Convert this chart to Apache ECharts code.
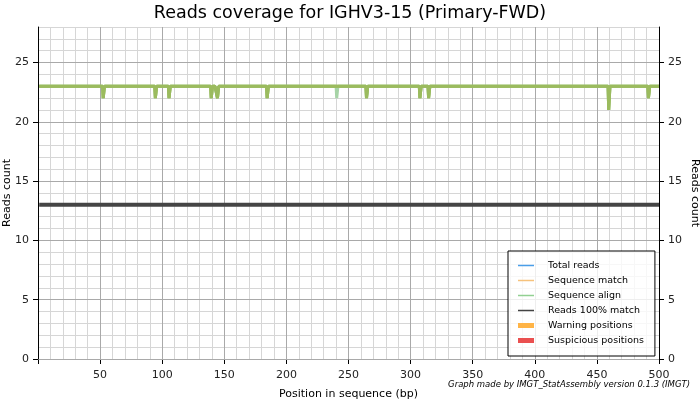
<!DOCTYPE html>
<html>
<head>
<meta charset="utf-8">
<script src="https://cdn.jsdelivr.net/npm/echarts@6/dist/echarts.min.js"></script>
<style>html,body{margin:0;padding:0;background:#fff}#chart{width:700px;height:400px}</style>
</head>
<body>
<div id="chart"></div>
<script>
const titleText = 'Reads coverage for IGHV3-15 (Primary-FWD)';
const footerText = 'Graph made by IMGT_StatAssembly version 0.1.3 (IMGT)';
const seriesNames = ['Total reads', 'Sequence match', 'Sequence align', 'Reads 100% match', 'Warning positions', 'Suspicious positions'];
const yTickValues = [0, 5, 10, 15, 20, 25];

// [position, reads]
const totalReadsPoints = [[1,23],[52,23],[53,22],[54,23],[94,23],[95,22],[96,23],[105,23],[106,22],[107,23],[139,23],[140,22],[141,23],[144,23],[145,22],[146,23],[184,23],[185,22],[186,23],[264,23],[265,22],[266,23],[307,23],[308,22],[309,23],[314,23],[315,22],[316,23],[459,23],[460,21],[461,23],[491,23],[492,22],[493,23],[500,23]];
const sequenceMatchPoints = [[1,23],[52,23],[53,22],[54,23],[94,23],[95,22],[96,23],[105,23],[106,22],[107,23],[139,23],[140,22],[141,23],[144,23],[145,22],[146,23],[184,23],[185,22],[186,23],[264,23],[265,22],[266,23],[307,23],[308,22],[309,23],[314,23],[315,22],[316,23],[459,23],[460,21],[461,23],[491,23],[492,22],[493,23],[500,23]];
const sequenceAlignPoints = [[1,23],[52,23],[53,22],[54,23],[94,23],[95,22],[96,23],[105,23],[106,22],[107,23],[139,23],[140,22],[141,23],[144,23],[145,22],[146,23],[184,23],[185,22],[186,23],[240,23],[241,22],[242,23],[264,23],[265,22],[266,23],[307,23],[308,22],[309,23],[314,23],[315,22],[316,23],[459,23],[460,21],[461,23],[491,23],[492,22],[493,23],[500,23]];
const fullMatchPoints = [[1,13],[500,13]];
const warningPoints = [];
const suspiciousPoints = [];

const FONT = 'DejaVu Sans';
const LINE_ICON = 'path://M0,0H32V3H0Z';
const chart = echarts.init(document.getElementById('chart'), null, {renderer: 'canvas'});

const majorAxisBase = {
  type: 'value', min: 0, max: 28, interval: 5, z: 1,
  axisLine: {show: true, lineStyle: {color: '#000', width: 1}},
  axisTick: {show: true, length: 5, inside: false, lineStyle: {color: '#000'}, customValues: yTickValues},
  axisLabel: {show: true, fontFamily: FONT, fontSize: 11, color: '#222', margin: 9, customValues: yTickValues},
  name: 'Reads count', nameLocation: 'middle', nameMoveOverlap: false,
  nameTextStyle: {fontFamily: FONT, fontSize: 11, color: '#000'}
};

const lineBase = {type: 'line', xAxisIndex: 0, yAxisIndex: 1, symbol: 'none', step: 'middle'};

const option = {
  backgroundColor: '#fff',
  animation: false,
  title: [
    {text: titleText, left: 'center', top: 4, padding: 0,
     textStyle: {fontFamily: FONT, fontSize: 17.5, fontWeight: 'normal', color: '#000'}},
    {text: footerText, right: 10, top: 380, padding: 0,
     textStyle: {fontFamily: FONT, fontSize: 8.5, fontStyle: 'italic', fontWeight: 'normal', color: '#000'}}
  ],
  grid: {left: 38, right: 41, top: 27, bottom: 41, containLabel: false, outerBoundsMode: 'none'},
  legend: {
    orient: 'vertical', left: 508, top: 251,
    padding: [9, 11, 10, 10],
    backgroundColor: 'rgba(255,255,255,0.8)', borderColor: '#000', borderWidth: 1, borderRadius: 0,
    itemWidth: 16, itemHeight: 5, itemGap: 4,
    textStyle: {fontFamily: FONT, fontSize: 9.5, color: '#000', padding: [0, 0, 0, 9], lineHeight: 11},
    data: [
      {name: seriesNames[0], icon: LINE_ICON, itemStyle: {color: '#4a9ee8', borderWidth: 0}},
      {name: seriesNames[1], icon: LINE_ICON, itemStyle: {color: '#f6c27c', borderWidth: 0}},
      {name: seriesNames[2], icon: LINE_ICON, itemStyle: {color: '#92d092', borderWidth: 0}},
      {name: seriesNames[3], icon: LINE_ICON, itemStyle: {color: '#444444', borderWidth: 0}},
      {name: seriesNames[4], icon: 'rect', itemStyle: {borderWidth: 0}},
      {name: seriesNames[5], icon: 'rect', itemStyle: {borderWidth: 0}}
    ]
  },
  xAxis: [{
    type: 'value', min: 0, max: 500, interval: 50,
    name: 'Position in sequence (bp)', nameLocation: 'middle', nameGap: 30, nameMoveOverlap: false,
    nameTextStyle: {fontFamily: FONT, fontSize: 11, color: '#000'},
    axisLine: {show: true, onZero: false, lineStyle: {color: '#000'}},
    axisTick: {show: true, length: 5, lineStyle: {color: '#000'}},
    axisLabel: {fontFamily: FONT, fontSize: 11, color: '#222', margin: 11,
      formatter: v => (v === 0 ? '' : String(v))},
    splitLine: {show: true, lineStyle: {color: '#a9a9a9', width: 1}},
    minorTick: {show: false, splitNumber: 5},
    minorSplitLine: {show: true, lineStyle: {color: '#d6d6d6', width: 1}}
  }],
  yAxis: [
    {
      type: 'value', min: 0, max: 28, interval: 1, z: 0, position: 'left',
      axisLine: {show: false}, axisTick: {show: false}, axisLabel: {show: false},
      splitLine: {show: true, lineStyle: {color: '#d6d6d6', width: 1}}
    },
    Object.assign({}, majorAxisBase, {
      position: 'left', nameGap: 25, nameRotate: 90,
      splitLine: {show: true, lineStyle: {color: '#a9a9a9', width: 1}}
    }),
    Object.assign({}, majorAxisBase, {
      position: 'right', nameGap: 30, nameRotate: -90,
      splitLine: {show: false}
    })
  ],
  series: [
    Object.assign({}, lineBase, {name: seriesNames[2], data: sequenceAlignPoints, z: 3,
      color: '#a6d3a6', lineStyle: {color: '#a6d3a6', width: 3, join: 'bevel', cap: 'butt'}}),
    Object.assign({}, lineBase, {name: seriesNames[0], data: totalReadsPoints, z: 4,
      color: '#9bbb5e', lineStyle: {color: '#9bbb5e', width: 3, join: 'bevel', cap: 'butt'}}),
    Object.assign({}, lineBase, {name: seriesNames[1], data: sequenceMatchPoints, z: 5,
      color: '#9bbb5e', lineStyle: {color: '#9bbb5e', width: 3, join: 'bevel', cap: 'butt'}}),
    Object.assign({}, lineBase, {name: seriesNames[3], data: fullMatchPoints, z: 6,
      color: '#454545', lineStyle: {color: '#454545', width: 4, cap: 'butt'}}),
    {name: seriesNames[4], type: 'bar', xAxisIndex: 0, yAxisIndex: 1, data: warningPoints,
     color: '#ffb446', itemStyle: {color: '#ffb446'}},
    {name: seriesNames[5], type: 'bar', xAxisIndex: 0, yAxisIndex: 1, data: suspiciousPoints,
     color: '#ea5050', itemStyle: {color: '#ea5050'}}
  ]
};
chart.setOption(option);
</script>
</body>
</html>
